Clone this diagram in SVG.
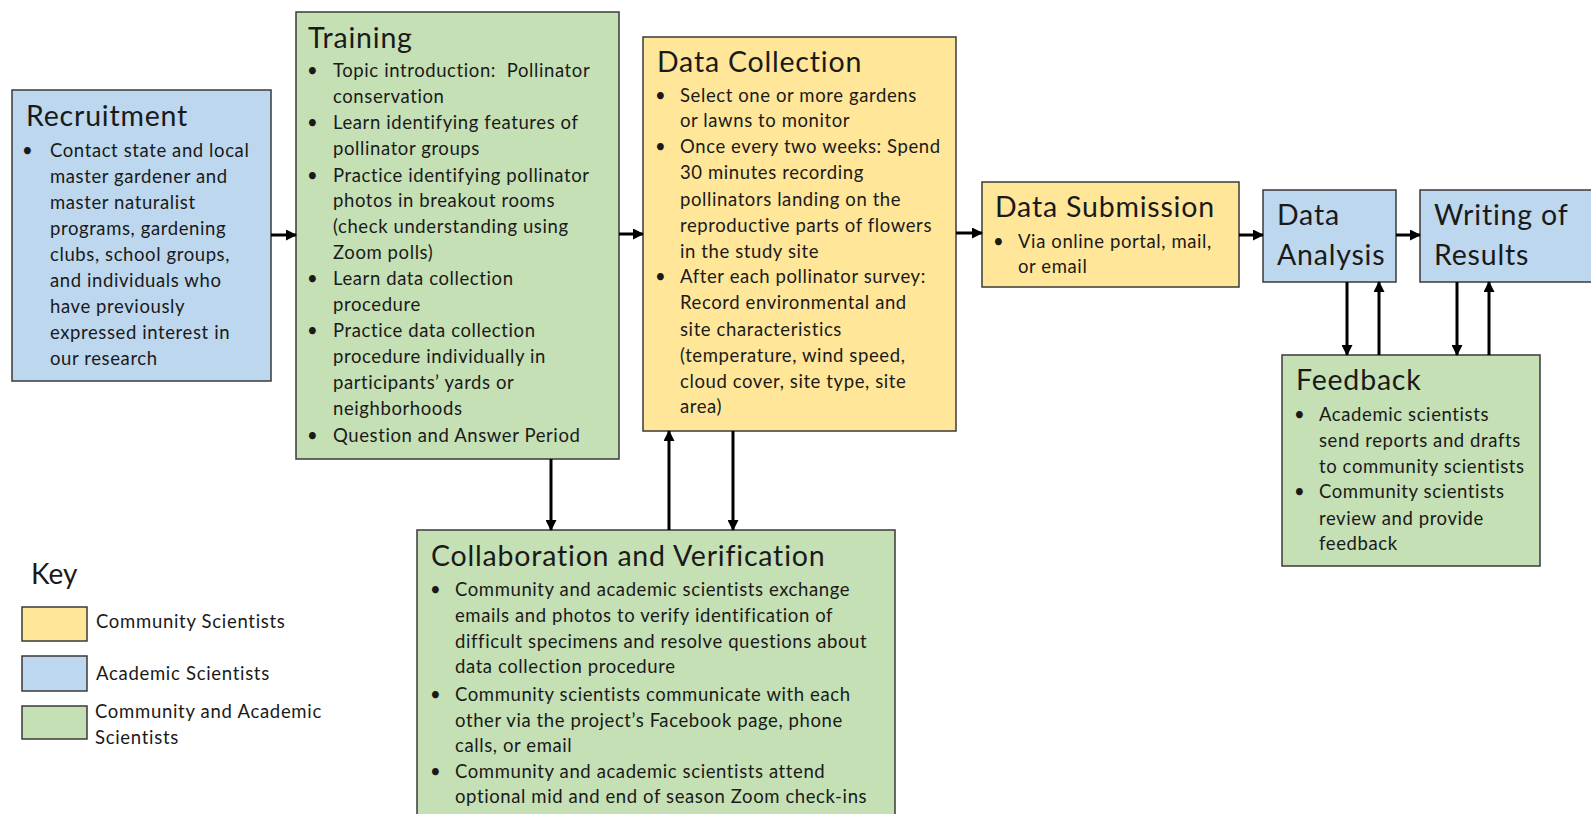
<svg xmlns="http://www.w3.org/2000/svg" width="1591" height="814" viewBox="0 0 1591 814">
<style>
.box{stroke:#3a3a3a;stroke-width:1.5}
.y{fill:#FFE699}.b{fill:#BDD7EE}.g{fill:#C5E0B4}
text{font-family:Lato,"Open Sans",sans-serif;fill:#1a1a1a}
.t{font-size:28.5px;letter-spacing:0.8px}
.s{font-size:18.5px;letter-spacing:0.6px}
.k{font-size:18.5px;letter-spacing:0.7px}
.kt{font-size:28px}
.con{stroke:#000;stroke-width:3;fill:none}
</style>
<defs>
<marker id="ah" markerUnits="userSpaceOnUse" markerWidth="11" markerHeight="11" refX="10" refY="5.5" orient="auto">
<path d="M0,0 L11,5.5 L0,11 z" fill="#000"/>
</marker>
</defs>
<rect width="1591" height="814" fill="#fff"/>

<g id="recruitment">
<rect class="box b" x="12" y="90" width="259" height="291"/>
<text class="t" x="26" y="126">Recruitment</text>
<text class="s" x="22" y="157">•</text>
<text class="s" x="50" y="157"><tspan x="50" y="157">Contact state and local</tspan><tspan x="50" y="183">master gardener and</tspan><tspan x="50" y="209">master naturalist</tspan><tspan x="50" y="235">programs, gardening</tspan><tspan x="50" y="261">clubs, school groups,</tspan><tspan x="50" y="287">and individuals who</tspan><tspan x="50" y="313">have previously</tspan><tspan x="50" y="339">expressed interest in</tspan><tspan x="50" y="365">our research</tspan></text>
</g>

<g id="training">
<rect class="box g" x="296" y="12" width="323" height="447"/>
<text class="t" x="308" y="48">Training</text>
<text class="s"><tspan x="307" y="77">•</tspan><tspan x="307" y="129">•</tspan><tspan x="307" y="182">•</tspan><tspan x="307" y="285">•</tspan><tspan x="307" y="337">•</tspan><tspan x="307" y="442">•</tspan></text>
<text class="s"><tspan x="333" y="77">Topic introduction:&#160; Pollinator</tspan><tspan x="333" y="103">conservation</tspan><tspan x="333" y="129">Learn identifying features of</tspan><tspan x="333" y="155">pollinator groups</tspan><tspan x="333" y="182">Practice identifying pollinator</tspan><tspan x="333" y="207">photos in breakout rooms</tspan><tspan x="333" y="233">(check understanding using</tspan><tspan x="333" y="259">Zoom polls)</tspan><tspan x="333" y="285">Learn data collection</tspan><tspan x="333" y="311">procedure</tspan><tspan x="333" y="337">Practice data collection</tspan><tspan x="333" y="363">procedure individually in</tspan><tspan x="333" y="389">participants’ yards or</tspan><tspan x="333" y="415">neighborhoods</tspan><tspan x="333" y="442">Question and Answer Period</tspan></text>
</g>

<g id="data-collection">
<rect class="box y" x="643" y="37" width="313" height="394"/>
<text class="t" x="657" y="72">Data Collection</text>
<text class="s"><tspan x="655" y="102">•</tspan><tspan x="655" y="153">•</tspan><tspan x="655" y="283">•</tspan></text>
<text class="s"><tspan x="680" y="102">Select one or more gardens</tspan><tspan x="680" y="127">or lawns to monitor</tspan><tspan x="680" y="153">Once every two weeks: Spend</tspan><tspan x="680" y="179">30 minutes recording</tspan><tspan x="680" y="206">pollinators landing on the</tspan><tspan x="680" y="232">reproductive parts of flowers</tspan><tspan x="680" y="258">in the study site</tspan><tspan x="680" y="283">After each pollinator survey:</tspan><tspan x="680" y="309">Record environmental and</tspan><tspan x="680" y="336">site characteristics</tspan><tspan x="680" y="362">(temperature, wind speed,</tspan><tspan x="680" y="388">cloud cover, site type, site</tspan><tspan x="680" y="413">area)</tspan></text>
</g>

<g id="data-submission">
<rect class="box y" x="982" y="182" width="257" height="105"/>
<text class="t" x="995" y="217">Data Submission</text>
<text class="s" x="993" y="248">•</text>
<text class="s"><tspan x="1018" y="248">Via online portal, mail,</tspan><tspan x="1018" y="273">or email</tspan></text>
</g>

<g id="data-analysis">
<rect class="box b" x="1263" y="190" width="133" height="92"/>
<text class="t"><tspan x="1277" y="225">Data</tspan><tspan x="1277" y="265">Analysis</tspan></text>
</g>

<g id="writing-of-results">
<rect class="box b" x="1420" y="190" width="180" height="92"/>
<text class="t"><tspan x="1434" y="225">Writing of</tspan><tspan x="1434" y="265">Results</tspan></text>
</g>

<g id="feedback">
<rect class="box g" x="1282" y="355" width="258" height="211"/>
<text class="t" x="1296" y="390">Feedback</text>
<text class="s"><tspan x="1294" y="421">•</tspan><tspan x="1294" y="498">•</tspan></text>
<text class="s"><tspan x="1319" y="421">Academic scientists</tspan><tspan x="1319" y="447">send reports and drafts</tspan><tspan x="1319" y="473">to community scientists</tspan><tspan x="1319" y="498">Community scientists</tspan><tspan x="1319" y="525">review and provide</tspan><tspan x="1319" y="550">feedback</tspan></text>
</g>

<g id="collaboration">
<rect class="box g" x="417" y="530" width="478" height="300"/>
<text class="t" x="431" y="566">Collaboration and Verification</text>
<text class="s"><tspan x="430" y="596">•</tspan><tspan x="430" y="701">•</tspan><tspan x="430" y="778">•</tspan></text>
<text class="s"><tspan x="455" y="596">Community and academic scientists exchange</tspan><tspan x="455" y="622">emails and photos to verify identification of</tspan><tspan x="455" y="648">difficult specimens and resolve questions about</tspan><tspan x="455" y="673">data collection procedure</tspan><tspan x="455" y="701">Community scientists communicate with each</tspan><tspan x="455" y="727">other via the project’s Facebook page, phone</tspan><tspan x="455" y="752">calls, or email</tspan><tspan x="455" y="778">Community and academic scientists attend</tspan><tspan x="455" y="803">optional mid and end of season Zoom check-ins</tspan></text>
</g>

<g id="key">
<text class="kt" x="31" y="584">Key</text>
<rect class="box y" x="22" y="607" width="65" height="34"/>
<rect class="box b" x="22" y="656" width="65" height="35"/>
<rect class="box g" x="22" y="706" width="65" height="33"/>
<text class="k" x="96" y="628">Community Scientists</text>
<text class="k" x="96" y="680">Academic Scientists</text>
<text class="k"><tspan x="95" y="718">Community and Academic</tspan><tspan x="95" y="744">Scientists</tspan></text>
</g>

<g id="connectors">
<line class="con" x1="271" y1="235" x2="296" y2="235" marker-end="url(#ah)"/>
<line class="con" x1="619" y1="234" x2="643" y2="234" marker-end="url(#ah)"/>
<line class="con" x1="956" y1="233" x2="982" y2="233" marker-end="url(#ah)"/>
<line class="con" x1="1239" y1="235" x2="1263" y2="235" marker-end="url(#ah)"/>
<line class="con" x1="1396" y1="235" x2="1420" y2="235" marker-end="url(#ah)"/>
<line class="con" x1="551" y1="459" x2="551" y2="530" marker-end="url(#ah)"/>
<line class="con" x1="669" y1="530" x2="669" y2="431" marker-end="url(#ah)"/>
<line class="con" x1="733" y1="431" x2="733" y2="530" marker-end="url(#ah)"/>
<line class="con" x1="1347" y1="282" x2="1347" y2="355" marker-end="url(#ah)"/>
<line class="con" x1="1379" y1="355" x2="1379" y2="282" marker-end="url(#ah)"/>
<line class="con" x1="1457" y1="282" x2="1457" y2="355" marker-end="url(#ah)"/>
<line class="con" x1="1489" y1="355" x2="1489" y2="282" marker-end="url(#ah)"/>
</g>
</svg>
